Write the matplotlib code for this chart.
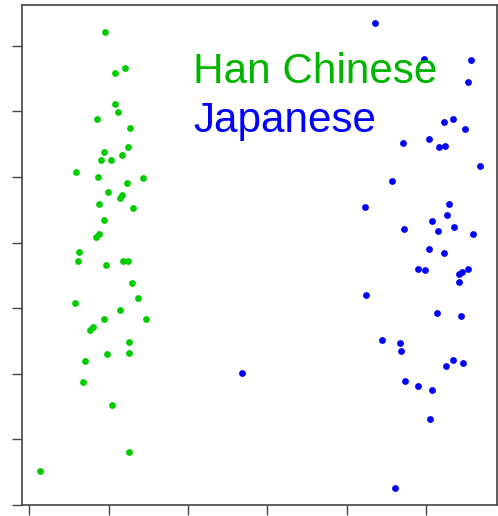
import matplotlib
matplotlib.use("Agg")
from matplotlib import pyplot as plt

# Jittered group positions and values for each population
han_x = [0.956, 1.204, 1.078, 1.078, 1.119, 0.855, 1.270, 1.245, 0.940, 1.174,
         0.909, 1.035, 0.595, 0.868, 1.438, 1.229, 0.994, 1.174, 1.145, 0.884,
         1.312, 0.940, 0.884, 0.843, 0.633, 0.620, 0.969, 1.186, 1.245, 1.299,
         1.371, 0.579, 1.148, 0.940, 1.468, 0.801, 0.771, 1.258, 0.981, 1.258,
         0.704, 0.675, 1.040, 1.258, 0.135]
han_y = [7.215, 6.662, 6.581, 6.108, 5.986, 5.889, 5.752, 5.457, 5.376, 5.335,
         5.259, 5.259, 5.081, 5.000, 4.980, 4.904, 4.767, 4.726, 4.684, 4.588,
         4.527, 4.349, 4.131, 4.090, 3.857, 3.720, 3.659, 3.720, 3.720, 3.380,
         3.160, 3.084, 2.968, 2.831, 2.831, 2.709, 2.668, 2.489, 2.297, 2.312,
         2.195, 1.880, 1.524, 0.812, 0.514]

jpn_x = [4.352, 4.972, 5.560, 5.518, 5.216, 5.337, 5.488, 4.701, 5.031, 5.153,
         5.229, 5.669, 4.562, 4.226, 5.279, 5.254, 5.073, 4.713, 5.145, 5.350,
         5.589, 5.031, 5.224, 4.893, 4.977, 5.405, 5.447, 5.518, 5.405, 4.239,
         5.128, 5.434, 4.436, 4.670, 4.683, 5.337, 5.242, 5.463, 4.726, 4.893,
         5.073, 5.044, 4.604, 2.675]
jpn_y = [7.352, 6.799, 6.779, 6.448, 5.834, 5.889, 5.732, 5.514, 5.579, 5.457,
         5.477, 5.163, 4.939, 4.547, 4.588, 4.425, 4.329, 4.212, 4.172, 4.233,
         4.131, 3.898, 3.837, 3.598, 3.578, 3.521, 3.556, 3.598, 3.399, 3.201,
         2.927, 2.886, 2.511, 2.470, 2.352, 2.215, 2.119, 2.160, 1.895, 1.819,
         1.758, 1.306, 0.259, 2.017]

green = "#00CD00"
blue = "#0000FF"

plt.rcParams['font.family'] = ['Liberation Sans', 'DejaVu Sans']

fig = plt.figure(figsize=(4.98, 5.16), dpi=100)
ax = fig.add_axes([0.0442, 0.0213, 0.9538, 0.969])

ax.scatter(han_x, han_y, s=24, color=green, linewidths=0, zorder=2)
ax.scatter(jpn_x, jpn_y, s=24, color=blue, linewidths=0, zorder=2)

# legend-style labels written straight onto the panel
ax.text(2.063, 6.433, "Han Chinese", color="#00B400", fontsize=30.4, va="baseline", ha="left", zorder=3)
ax.text(2.063, 5.68, "Japanese", color=blue, fontsize=30.4, va="baseline", ha="left", zorder=3)

ax.set_xlim(-0.088, 5.887)
ax.set_ylim(0, 7.62)
ax.set_xticks(range(6))
ax.set_yticks(range(8))
ax.set_xticklabels([])
ax.set_yticklabels([])
ax.tick_params(length=7.5, width=1, color="#444444")
for sp in ax.spines.values():
    sp.set_color("#444444")
    sp.set_linewidth(1.2)

fig.savefig("out.png", dpi=100)
